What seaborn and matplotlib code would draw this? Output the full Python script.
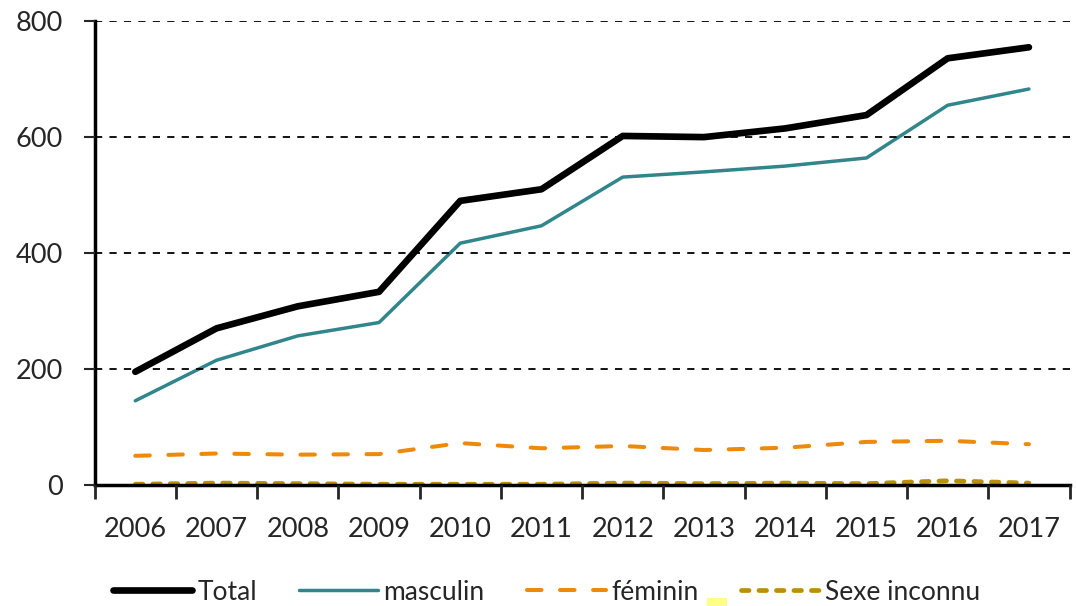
import pandas as pd
import seaborn as sns
import matplotlib.pyplot as plt
from matplotlib.patches import Rectangle

# ==========================================
# 1. DATA
# ==========================================
years = [2006, 2007, 2008, 2009, 2010, 2011, 2012, 2013, 2014, 2015, 2016, 2017]
total = [195, 270, 308, 333, 490, 510, 602, 600, 615, 638, 736, 755]
masculin = [145, 215, 257, 280, 417, 447, 531, 540, 550, 564, 655, 683]
feminin = [50, 54, 52, 53, 72, 63, 67, 60, 64, 74, 76, 70]
inconnu = [1, 3, 2, 1, 1, 1, 3, 2, 3, 2, 7, 3]

series_names = ['Total', 'masculin', 'féminin', 'Sexe inconnu']
series_values = [total, masculin, feminin, inconnu]

rows = []
for name, vals in zip(series_names, series_values):
    for i, (yr, v) in enumerate(zip(years, vals)):
        rows.append({'pos': i, 'year': yr, 'Série': name, 'value': v})
df = pd.DataFrame(rows)

# ==========================================
# 2. STYLE
# ==========================================
sns.set_style('white')
plt.rcParams['font.family'] = ['Lato', 'DejaVu Sans']

colors = {'Total': '#000000', 'masculin': '#31868B',
          'féminin': '#EE8A0A', 'Sexe inconnu': '#B8900A'}
widths = {'Total': 4.8, 'masculin': 2.5, 'féminin': 2.9, 'Sexe inconnu': 3.4}
dashes = {'Total': '', 'masculin': '', 'féminin': (3.6, 4.6), 'Sexe inconnu': (1.6, 2.1)}

# ==========================================
# 3. PLOT
# ==========================================
fig = plt.figure(figsize=(10.76, 6.06), dpi=100)
ax = fig.add_axes([0.088, 0.2, 0.906, 0.765])

for name in series_names:
    sub = df[df['Série'] == name]
    sns.lineplot(data=sub, x='pos', y='value', ax=ax, color=colors[name],
                 linewidth=widths[name], label=name, legend=False,
                 solid_capstyle='round', dash_capstyle='round')
    line = ax.lines[-1]
    if dashes[name]:
        line.set_dashes(dashes[name])

ax.set_xlim(-0.5, len(years) - 0.5)
ax.set_ylim(0, 800)

# y axis
ax.set_yticks([0, 200, 400, 600, 800])
ax.tick_params(axis='y', labelsize=19.5, length=8, width=1.5, direction='out',
               left=True, pad=15)
ax.yaxis.grid(True, linestyle=(0, (4, 4)), color='black', linewidth=1.3)

# x axis: tick marks at boundaries, labels at centres
ax.set_xticks([i - 0.5 for i in range(len(years) + 1)])
ax.set_xticklabels([])
ax.set_xticks(range(len(years)), minor=True)
ax.set_xticklabels([str(y) for y in years], minor=True)
ax.tick_params(axis='x', which='major', length=10, width=2, direction='out', bottom=True)
ax.tick_params(axis='x', which='minor', length=0, labelsize=19.5, pad=23)

ax.set_xlabel('')
ax.set_ylabel('')
for side in ['top', 'right']:
    ax.spines[side].set_visible(False)
for side in ['left', 'bottom']:
    ax.spines[side].set_color('black')
    ax.spines[side].set_linewidth(2.5)
ax.set_axisbelow(False)

handles, labels = ax.get_legend_handles_labels()
fig.legend(handles, labels, loc='center', bbox_to_anchor=(0.508, 0.023), ncol=4,
           frameon=False, fontsize=19, handlelength=3.0, handletextpad=0.2,
           columnspacing=1.6)

# small stray yellow mark next to the "féminin" legend entry
fig.patches.append(Rectangle((707 / 1076, 0), 20 / 1076, 8 / 606,
                             transform=fig.transFigure, color='#FFFF88',
                             linewidth=0))

plt.savefig('out.png', dpi=100)
